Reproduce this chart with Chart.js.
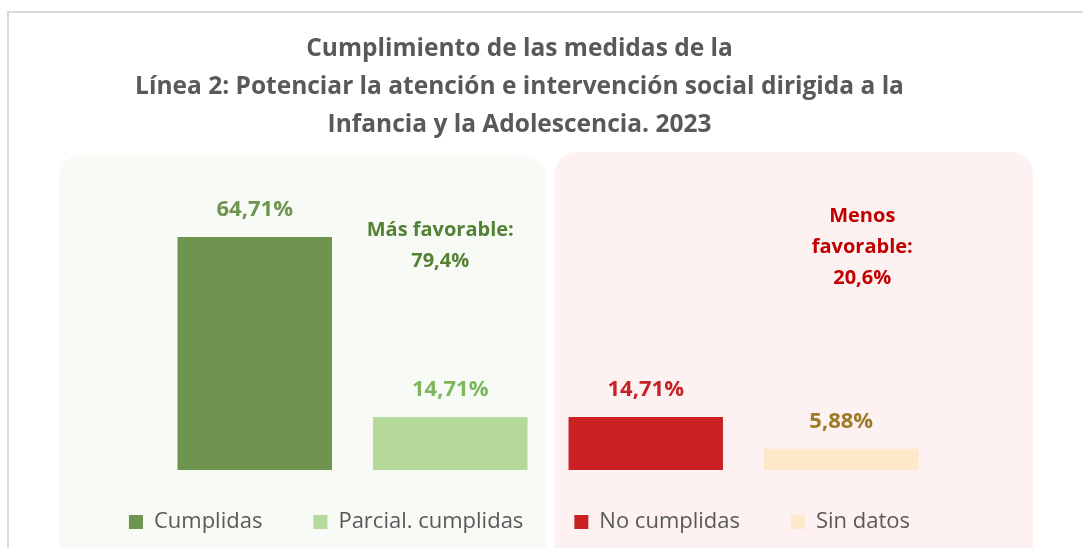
<!DOCTYPE html>
<html>
<head>
<meta charset="utf-8">
<script src="https://cdn.jsdelivr.net/npm/chart.js@4"></script>
<style>
  body { margin: 0; background: #fff; }
  #wrap { width: 1083px; height: 548px; position: relative; }
</style>
</head>
<body>
<div id="wrap"><canvas id="chart"></canvas></div>
<script>
const categories = ['Cumplidas', 'Parcial. cumplidas', 'No cumplidas', 'Sin datos'];
const values = [64.71, 14.71, 14.71, 5.88];
const barColors = ['#6E944F', '#B5D89B', '#CB2124', '#FEE8CA'];
const labelColors = ['#6E944F', '#7DB65B', '#C62127', '#9C7A26'];
const titleLines = [
  'Cumplimiento de las medidas de la',
  'Línea 2: Potenciar la atención e intervención social dirigida a la',
  'Infancia y la Adolescencia. 2023'
];
const favorableText = ['Más favorable:', '79,4%'];
const unfavorableText = ['Menos', 'favorable:', '20,6%'];

const FONT = '"Open Sans", sans-serif';

// fondo: borde exterior + dos paneles redondeados
const panels = {
  id: 'panels',
  afterLayout(chart) {
    // subir un poco la leyenda
    chart.legend.top -= 10;
    chart.legend.bottom -= 10;
  },
  beforeDraw(chart) {
    const ctx = chart.ctx;
    const x = chart.scales.x;
    const slot = x.width / categories.length;
    const mid = (x.getPixelForValue(1) + x.getPixelForValue(2)) / 2;
    ctx.save();
    ctx.strokeStyle = '#D9D9D9';
    ctx.lineWidth = 2;
    ctx.strokeRect(8, 12, 1100, 600);

    ctx.fillStyle = '#F8FAF6';
    ctx.beginPath();
    ctx.roundRect(x.left - slot / 2, 155, mid - 2 - (x.left - slot / 2), 420, 22);
    ctx.fill();

    ctx.fillStyle = '#FDF1F1';
    ctx.beginPath();
    ctx.roundRect(mid + 6.5, 152, x.right + 94 - (mid + 6.5), 420, 22);
    ctx.fill();
    ctx.restore();
  }
};

// etiquetas de valor y textos de resumen
const labels = {
  id: 'labels',
  afterDatasetsDraw(chart) {
    const ctx = chart.ctx;
    const x = chart.scales.x;
    ctx.save();
    ctx.textAlign = 'center';
    ctx.textBaseline = 'middle';
    ctx.font = 'bold 22px ' + FONT;
    chart.data.datasets.forEach((ds, i) => {
      const bar = chart.getDatasetMeta(i).data[i];
      ctx.fillStyle = labelColors[i];
      ctx.fillText(values[i].toFixed(2).replace('.', ',') + '%', bar.x, bar.y - 27);
    });

    ctx.font = 'bold 20px ' + FONT;
    ctx.fillStyle = '#548235';
    favorableText.forEach((t, k) => {
      ctx.fillText(t, x.getPixelForValue(1) - 10, 230 + k * 31);
    });
    ctx.fillStyle = '#C00000';
    unfavorableText.forEach((t, k) => {
      ctx.fillText(t, x.getPixelForValue(3) + 21, 216 + k * 31);
    });
    ctx.restore();
  }
};

new Chart(document.getElementById('chart'), {
  type: 'bar',
  data: {
    labels: categories,
    datasets: categories.map((c, i) => ({
      label: c,
      data: categories.map((_, j) => (j === i ? values[i] : null)),
      backgroundColor: barColors[i],
      grouped: false,
      categoryPercentage: 0.79,
      barPercentage: 1
    }))
  },
  options: {
    responsive: true,
    maintainAspectRatio: false,
    animation: false,
    layout: { padding: { top: 12, left: 40, right: 84, bottom: 0 } },
    scales: {
      x: {
        display: false
      },
      y: {
        min: 0,
        max: 80,
        grid: { display: false },
        border: { display: false },
        ticks: { display: false },
        afterFit(s) { s.width = 117; }
      },
      y1: {
        position: 'right',
        min: 0,
        max: 80,
        grid: { display: false },
        border: { display: false },
        ticks: { display: false },
        afterFit(s) { s.width = 60; }
      }
    },
    plugins: {
      title: {
        display: true,
        text: titleLines,
        color: '#595959',
        font: { family: FONT, size: 24.5, weight: 'bold', lineHeight: 1.55 },
        padding: { top: 18, bottom: 38 }
      },
      legend: {
        position: 'bottom',
        maxHeight: 78,
        labels: {
          color: '#595959',
          font: { family: FONT, size: 22 },
          boxWidth: 14,
          boxHeight: 14,
          padding: 51
        }
      },
      tooltip: { enabled: false }
    }
  },
  plugins: [panels, labels]
});
</script>
</body>
</html>
